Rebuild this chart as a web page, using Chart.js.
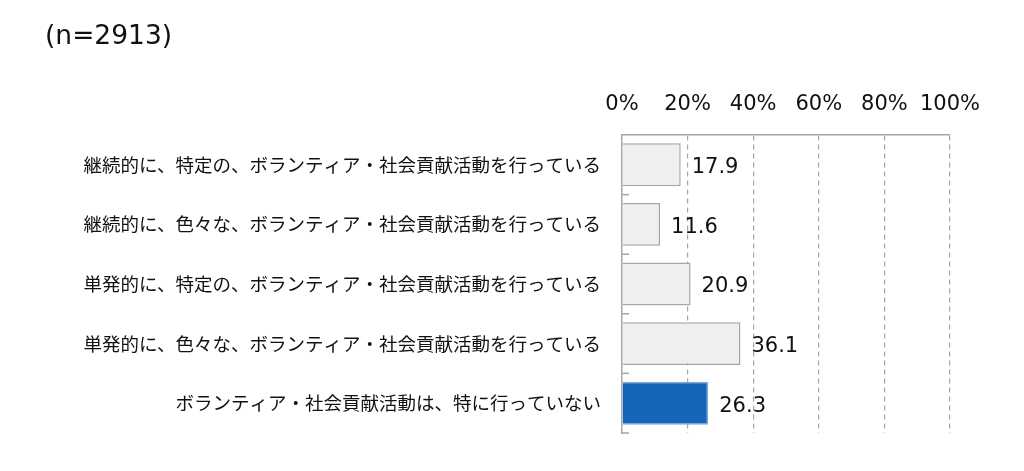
<!DOCTYPE html>
<html>
<head>
<meta charset="utf-8">
<script src="https://cdn.jsdelivr.net/npm/chart.js@4"></script>
<style>
  body { margin: 0; background: #fff; }
  #wrap { position: relative; width: 1024px; height: 471px; }
  #title { position: absolute; left: 45px; top: 19px; font: 26.5px "DejaVu Sans", sans-serif; color: #111; }
</style>
</head>
<body>
<div id="wrap">
  <div id="title">(n=2913)</div>
  <canvas id="chart" width="1024" height="471"></canvas>
</div>
<script>
// Kategorien und Werte (%)
const categories = [
    '継続的に、特定の、ボランティア・社会貢献活動を行っている',
    '継続的に、色々な、ボランティア・社会貢献活動を行っている',
    '単発的に、特定の、ボランティア・社会貢献活動を行っている',
    '単発的に、色々な、ボランティア・社会貢献活動を行っている',
    'ボランティア・社会貢献活動は、特に行っていない'
];
const values = [17.9, 11.6, 20.9, 36.1, 26.3];
const xTicks = [0, 20, 40, 60, 80, 100];

const barColors = ['#efefef', '#efefef', '#efefef', '#efefef', '#1565b9'];
const borderColors = ['#a6a6a6', '#a6a6a6', '#a6a6a6', '#a6a6a6', '#7fa8d6'];

const numFont = '"DejaVu Sans", sans-serif';
const jpFont = '"Noto Sans CJK JP", sans-serif';

// Werte neben den Balken + kleine Striche an der Achse
const extras = {
    id: 'extras',
    afterDatasetsDraw(chart) {
        const ctx = chart.ctx;
        const meta = chart.getDatasetMeta(0);
        const yScale = chart.scales.y;
        ctx.save();
        ctx.font = '21px ' + numFont;
        ctx.fillStyle = '#111';
        ctx.textAlign = 'left';
        ctx.textBaseline = 'middle';
        meta.data.forEach((bar, i) => {
            ctx.fillText(values[i].toFixed(1), bar.x + 11, bar.y + 3);
        });
        // Striche zwischen den Kategorien
        ctx.strokeStyle = '#a6a6a6';
        ctx.lineWidth = 1.5;
        const step = (yScale.bottom - yScale.top) / categories.length;
        for (let i = 1; i <= categories.length; i++) {
            const y = yScale.top + i * step;
            ctx.beginPath();
            ctx.moveTo(yScale.right, y);
            ctx.lineTo(yScale.right + 7, y);
            ctx.stroke();
        }
        ctx.restore();
    }
};

new Chart(document.getElementById('chart'), {
    type: 'bar',
    data: {
        labels: categories,
        datasets: [{
            data: values,
            backgroundColor: barColors,
            borderColor: borderColors,
            borderWidth: 1.5,
            barPercentage: 0.72,
            categoryPercentage: 1
        }]
    },
    plugins: [extras],
    options: {
        indexAxis: 'y',
        responsive: false,
        animation: false,
        layout: { padding: { left: 0, right: 74, top: 60, bottom: 38 } },
        plugins: {
            legend: { display: false },
            tooltip: { enabled: false }
        },
        scales: {
            x: {
                position: 'top',
                min: 0,
                max: 100,
                afterFit: (scale) => { scale.height = 75; },
                afterBuildTicks: (scale) => { scale.ticks = xTicks.map(v => ({ value: v })); },
                ticks: {
                    font: { family: numFont, size: 21 },
                    color: '#111',
                    padding: 18,
                    maxRotation: 0,
                    callback: (v) => v + '%'
                },
                grid: {
                    color: (c) => c.tick && c.tick.value === 0 ? 'rgba(0,0,0,0)' : '#a6a6a6',
                    lineWidth: 1.2,
                    drawTicks: false
                },
                border: { display: true, color: '#a6a6a6', width: 1.5, dash: [5, 4] }
            },
            y: {
                afterFit: (scale) => { scale.width = 622; },
                ticks: {
                    font: { family: jpFont, size: 18.5 },
                    color: '#111',
                    padding: 13
                },
                grid: { display: false },
                border: { display: true, color: '#a6a6a6', width: 1.5 }
            }
        }
    }
});
</script>
</body>
</html>
